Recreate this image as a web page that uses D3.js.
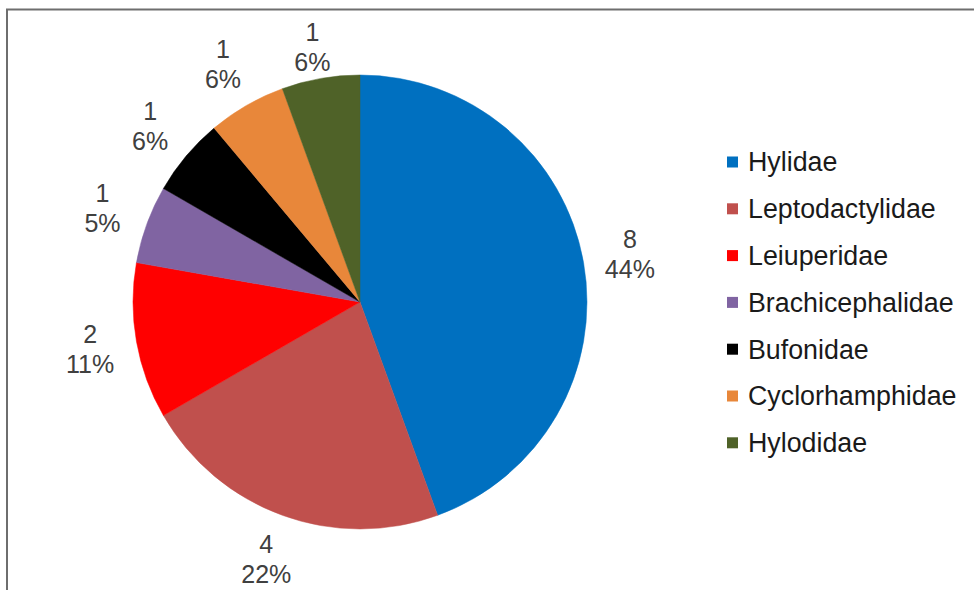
<!DOCTYPE html>
<html>
<head>
<meta charset="utf-8">
<script src="https://cdn.jsdelivr.net/npm/d3@7"></script>
<style>
  html, body { margin: 0; padding: 0; background: #fff; }
  svg { display: block; }
  text { font-family: Arial, "Liberation Sans", sans-serif; }
</style>
</head>
<body>
<svg id="chart" width="974" height="590"></svg>
<script>
const categories = ["Hylidae", "Leptodactylidae", "Leiuperidae", "Brachicephalidae", "Bufonidae", "Cyclorhamphidae", "Hylodidae"];
const counts = [8, 4, 2, 1, 1, 1, 1];
const percentLabels = ["44%", "22%", "11%", "5%", "6%", "6%", "6%"];
const colors = ["#0070C0", "#C0504D", "#FF0000", "#8064A2", "#000000", "#E8873A", "#4F6228"];

const svg = d3.select("#chart");
const W = 974, H = 590;

svg.append("rect").attr("x", 0).attr("y", 0).attr("width", W).attr("height", H).attr("fill", "#fff");
// chart frame (only top and left edges visible)
svg.append("rect")
  .attr("x", 7).attr("y", 9.5).attr("width", 1000).attr("height", 700)
  .attr("fill", "none").attr("stroke", "#6e6e6e").attr("stroke-width", 2);

const cx = 360, cy = 302, R = 227, labelR = 274;

const color = d3.scaleOrdinal().domain(categories).range(colors);

const pie = d3.pie().sort(null).value(d => d.value).startAngle(0).endAngle(2 * Math.PI);
const data = categories.map((c, i) => ({ name: c, value: counts[i], pct: percentLabels[i] }));
const arcs = pie(data);

const arc = d3.arc().innerRadius(0).outerRadius(R);
const labelArc = d3.arc().innerRadius(labelR).outerRadius(labelR);

const g = svg.append("g").attr("transform", `translate(${cx},${cy})`);
g.selectAll("path.slice").data(arcs).enter().append("path")
  .attr("class", "slice")
  .attr("d", arc)
  .attr("fill", d => color(d.data.name))
  .attr("stroke", d => color(d.data.name))
  .attr("stroke-width", 0.5);

const fs = 25, lh = 30;
const minCenterY = 47 - cy; // keep label blocks inside the chart frame
const lbl = g.selectAll("text.lbl").data(arcs).enter().append("text")
  .attr("class", "lbl")
  .attr("text-anchor", "middle")
  .attr("font-size", fs)
  .attr("fill", "#404040")
  .attr("transform", d => {
    let [x, y] = labelArc.centroid(d);
    y = Math.max(y, minCenterY);
    return `translate(${x},${y})`;
  });
lbl.append("tspan").attr("x", 0).attr("y", -lh / 2).attr("dy", "0.35em").text(d => d.data.value);
lbl.append("tspan").attr("x", 0).attr("y", lh / 2).attr("dy", "0.35em").text(d => d.data.pct);

// legend
const legend = svg.append("g").attr("transform", "translate(727,162)");
const step = 46.8;
const items = legend.selectAll("g").data(categories).enter().append("g")
  .attr("transform", (d, i) => `translate(0,${i * step})`);
items.append("rect").attr("x", 0).attr("y", -5.5).attr("width", 11).attr("height", 11)
  .attr("fill", d => color(d));
items.append("text").attr("x", 21).attr("y", 0).attr("dy", "0.35em")
  .attr("font-size", 26.8).attr("fill", "#1a1a1a").text(d => d);
</script>
</body>
</html>
